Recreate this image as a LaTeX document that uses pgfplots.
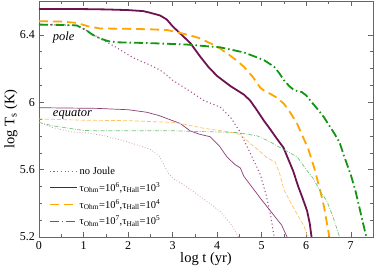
\documentclass[border=0pt]{standalone}
\usepackage{pgfplots}
\pgfplotsset{compat=1.18}
\usepackage{fontspec}
\setmainfont{Liberation Serif}
\definecolor{pd}{RGB}{110,18,80}
\definecolor{pdot}{RGB}{165,85,145}
\definecolor{peq}{RGB}{140,60,120}
\definecolor{peqdot}{RGB}{205,160,195}
\definecolor{oo}{RGB}{255,165,0}
\definecolor{oeq}{RGB}{255,195,100}
\definecolor{gg}{RGB}{20,150,20}
\definecolor{geq}{RGB}{120,195,120}
\begin{document}
\fontsize{12}{14}\selectfont
\begin{tikzpicture}
\begin{axis}[
  scale only axis, width=334pt, height=236pt,
  xmin=0, xmax=7.5, ymin=5.2, ymax=6.6,
  xtick={0,1,2,3,4,5,6,7}, ytick={5.2,5.6,6,6.4},
  minor x tick num=1, minor y tick num=3,
  tick align=inside,
  axis line style={gray!80!black},
  major tick length=5pt, minor tick length=3pt,
  every tick/.style={gray!80!black},
  /pgf/number format/assume math mode=true,
  tick label style={font=\fontsize{12}{14}\selectfont},
  xlabel={log t (yr)}, ylabel={log T\textsubscript{s} (K)},
  label style={font=\fontsize{14.5}{16}\selectfont},
  xlabel style={yshift=5pt}, ylabel style={yshift=-6pt},
  legend style={at={(0.02,0.315)}, anchor=north west, draw=none, fill=none,
    font=\fontsize{10.5}{12}\selectfont, row sep=2.3pt},
  legend cell align=left,
  legend image code/.code={\draw[#1] (0pt,0pt) -- (27pt,0pt);},
]
% pole
\addplot[pdot, line width=1.1pt, dash pattern=on 1.1pt off 2.6pt] coordinates {
(0,6.46)(0.5,6.458)(0.85,6.455)(1.07,6.425)(1.37,6.378)(1.7,6.33)(2.1,6.265)(2.45,6.225)(2.72,6.19)(2.87,6.16)(3.0,6.13)(3.3,6.08)(3.7,6.01)(4.07,5.97)(4.3,5.91)(4.5,5.83)(4.74,5.70)(4.97,5.57)(5.1,5.45)(5.2,5.33)(5.28,5.2)};
\addlegendentry{no Joule}
\addplot[pd, line width=1.8pt] coordinates {
(0,6.553)(1,6.552)(1.5,6.55)(2,6.546)(2.34,6.54)(2.5,6.53)(2.72,6.514)(2.87,6.49)(3.0,6.45)(3.24,6.39)(3.4,6.35)(3.62,6.27)(3.8,6.21)(4.0,6.155)(4.15,6.125)(4.3,6.095)(4.45,6.07)(4.6,6.045)(4.74,6.01)(4.9,5.95)(5.05,5.89)(5.19,5.84)(5.35,5.78)(5.49,5.73)(5.6,5.66)(5.71,5.59)(5.82,5.50)(5.92,5.43)(6.02,5.355)(6.08,5.28)(6.12,5.2)};
\addlegendentry{τ\textsubscript{Ohm}=10\textsuperscript{6},τ\textsubscript{Hall}=10\textsuperscript{3}}
\addplot[oo, line width=1.8pt, dash pattern=on 9pt off 5pt] coordinates {
(0,6.48)(0.5,6.478)(0.85,6.47)(1.1,6.45)(1.37,6.437)(2,6.435)(2.5,6.432)(2.87,6.428)(3.1,6.415)(3.39,6.396)(3.6,6.38)(3.84,6.35)(4.0,6.33)(4.22,6.29)(4.45,6.245)(4.6,6.21)(4.8,6.15)(4.97,6.085)(5.1,6.06)(5.19,6.05)(5.35,6.025)(5.5,5.99)(5.65,5.935)(5.8,5.87)(5.9,5.81)(6.05,5.72)(6.18,5.61)(6.3,5.49)(6.4,5.38)(6.52,5.2)};
\addlegendentry{τ\textsubscript{Ohm}=10\textsuperscript{6},τ\textsubscript{Hall}=10\textsuperscript{4}}
\addplot[gg, line width=1.8pt, dash pattern=on 9pt off 3pt on 1.5pt off 3pt] coordinates {
(0,6.46)(0.5,6.458)(0.85,6.455)(1.07,6.425)(1.2,6.40)(1.37,6.378)(1.55,6.362)(1.75,6.355)(2.5,6.35)(3.3,6.342)(4.07,6.325)(4.6,6.295)(4.85,6.27)(5.06,6.248)(5.28,6.21)(5.4,6.17)(5.5,6.13)(5.62,6.095)(5.73,6.07)(5.9,6.06)(6.0,6.04)(6.09,6.01)(6.25,5.96)(6.4,5.91)(6.52,5.86)(6.63,5.815)(6.75,5.76)(6.85,5.68)(7.0,5.57)(7.1,5.48)(7.19,5.38)(7.26,5.3)(7.35,5.2)};
\addlegendentry{τ\textsubscript{Ohm}=10\textsuperscript{7},τ\textsubscript{Hall}=10\textsuperscript{5}}
% equator
\addplot[peqdot, line width=0.8pt, dash pattern=on 0.8pt off 2pt, forget plot] coordinates {
(0,5.88)(0.3,5.85)(0.72,5.823)(1.1,5.817)(1.48,5.80)(1.84,5.775)(2.22,5.745)(2.5,5.72)(2.7,5.68)(2.8,5.63)(2.9,5.58)(3.0,5.55)(3.3,5.50)(3.78,5.41)(4.07,5.35)(4.3,5.28)(4.48,5.2)};
\addplot[peq, line width=0.7pt, forget plot] coordinates {
(0,5.967)(1.3,5.963)(2.0,5.955)(2.42,5.94)(2.7,5.92)(2.9,5.90)(3.17,5.874)(3.39,5.83)(3.6,5.81)(3.84,5.795)(4.05,5.74)(4.22,5.675)(4.4,5.63)(4.52,5.61)(4.6,5.56)(4.8,5.49)(5.0,5.42)(5.12,5.38)(5.3,5.32)(5.45,5.27)(5.57,5.2)};
\addplot[oeq, line width=0.7pt, dash pattern=on 4pt off 2pt, forget plot] coordinates {
(0,5.90)(1,5.893)(2,5.89)(3,5.88)(3.17,5.874)(3.7,5.845)(4.1,5.83)(4.45,5.815)(4.6,5.79)(4.74,5.755)(4.95,5.71)(5.12,5.67)(5.3,5.645)(5.4,5.58)(5.5,5.48)(5.7,5.38)(5.96,5.26)(6.03,5.2)};
\addplot[geq, line width=0.7pt, dash pattern=on 4pt off 1.5pt on 0.8pt off 1.5pt, forget plot] coordinates {
(0,5.88)(0.3,5.86)(0.55,5.85)(1.0,5.832)(1.3,5.83)(3,5.83)(4.45,5.82)(4.9,5.80)(5.15,5.77)(5.42,5.73)(5.8,5.675)(6.0,5.6)(6.15,5.55)(6.3,5.48)(6.47,5.41)(6.6,5.32)(6.75,5.2)};
\node[font=\itshape\fontsize{12.5}{14}\selectfont, anchor=west] at (axis cs:0.22,6.385) {pole};
\node[font=\itshape\fontsize{12.5}{14}\selectfont, anchor=west] at (axis cs:0.22,5.928) {equator};
\end{axis}
\pgfresetboundingbox
\path[use as bounding box] ([xshift=-39pt,yshift=-30pt]current axis.south west) rectangle ([xshift=1pt,yshift=1pt]current axis.north east);
\end{tikzpicture}
\end{document}
